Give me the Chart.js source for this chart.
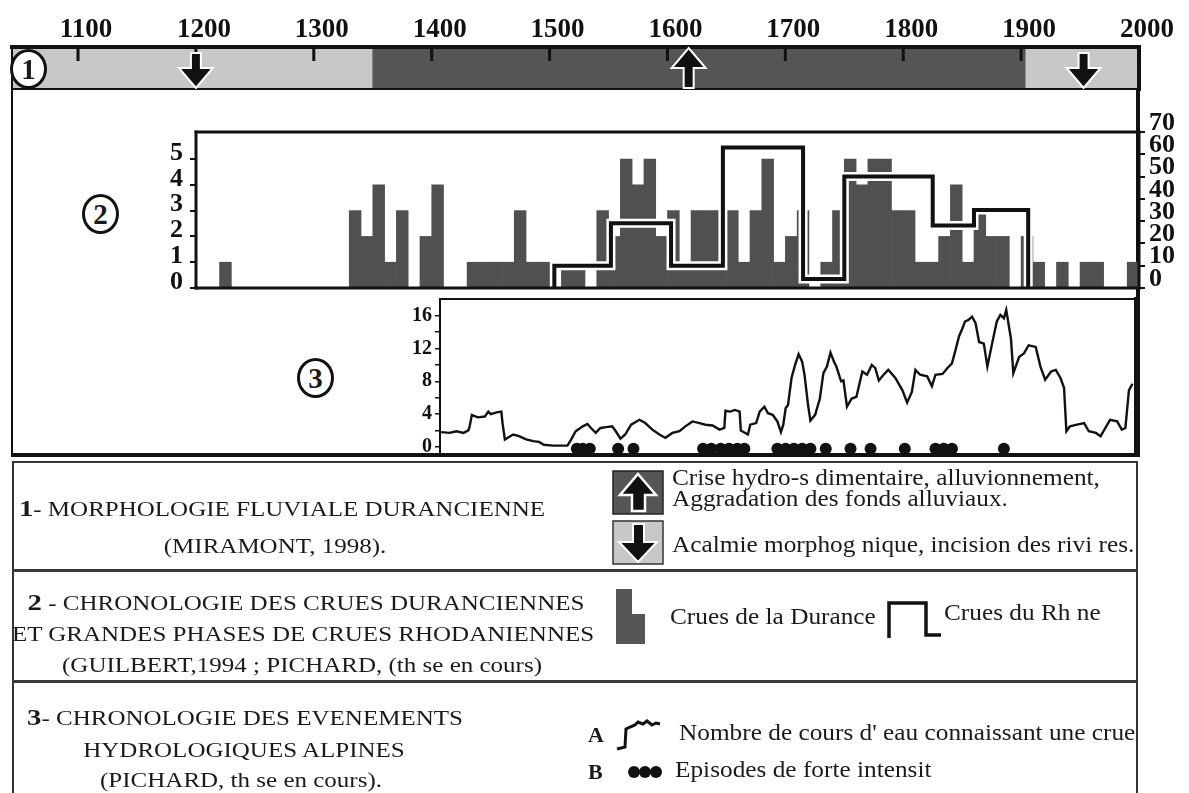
<!DOCTYPE html>
<html lang="fr">
<head>
<meta charset="UTF-8">
<title>Chronologie des crues - Durance, Rhône, Alpes</title>
<script src="https://cdn.jsdelivr.net/npm/chart.js@4.4.1/dist/chart.umd.min.js"></script>
<style>
  body {
    margin: 0;
    width: 1189px;
    height: 793px;
    overflow: hidden;
    position: relative;
    background: #fff;
    color: #1a1a1a;
    font-family: 'Liberation Serif', 'Times New Roman', serif;
  }
  canvas { position: absolute; }
  #frame {
    position: absolute; left: 11px; top: 47px; width: 1123px; height: 406px;
    border-left: 2px solid #111; border-right: 4px solid #111; border-bottom: 4px solid #111;
  }
  .circle {
    position: absolute; box-sizing: border-box; width: 37px; height: 40px;
    border: 3px solid #111; border-radius: 50%; background: #fff;
    font-weight: bold; font-size: 29px; line-height: 34px; text-align: center;
  }
  #legend {
    position: absolute; left: 12px; top: 461px; width: 1122px; height: 345px;
    border: 2px solid #333;
  }
  .divider { position: absolute; left: 12px; width: 1126px; height: 3px; background: #3a3a3a; }
  .txt { position: absolute; white-space: nowrap; line-height: 24px; }
  .caps { width: 600px; text-align: center; font-size: 20px; transform: scaleX(1.25); }
  .caps b { font-size: 23px; }
  .note { font-size: 23px; transform: scaleX(1.1); transform-origin: left center; }
  .key { font-size: 22px; font-weight: bold; }
  #icons { position: absolute; left: 0; top: 0; }
</style>
</head>
<body>
<div id="frame"></div>
<canvas id="bandChart" width="1189" height="92" style="left:0;top:0"></canvas>
<canvas id="floodChart" width="1049" height="190" style="left:140px;top:110px"></canvas>
<canvas id="alpsChart" width="809" height="175" style="left:380px;top:290px"></canvas>
<div class="circle" style="left:10px;top:49px">1</div>
<div class="circle" style="left:82px;top:194px">2</div>
<div class="circle" style="left:297px;top:358px">3</div>

<div id="legend"></div>
<div class="divider" style="top:569px"></div>
<div class="divider" style="top:680px"></div>

<svg id="icons" width="1189" height="793">
  <!-- phase icons -->
  <rect x="613" y="471" width="50" height="43" fill="#555" stroke="#222" stroke-width="1.5"/>
  <polygon points="638,474 656,495 645,495 645,511 632,511 632,495 620,495" fill="#111" stroke="#fff" stroke-width="2.5"/>
  <rect x="613" y="521" width="50" height="43" fill="#c8c8c8" stroke="#333" stroke-width="1.5"/>
  <polygon points="633,524 644,524 644,542 657,542 638,562 619,542 633,542" fill="#111" stroke="#fff" stroke-width="2"/>
  <!-- flood icons -->
  <polygon points="616,589 632,589 632,614 645,614 645,644 616,644" fill="#555"/>
  <polyline points="889,638 889,603 926,603 926,635 941,635" fill="none" stroke="#111" stroke-width="3.5"/>
  <!-- alpine icons -->
  <polyline points="617,749 625,747 626,729 630,727 635,725 638,722 643,724 647,721 652,725 656,723 660,724" fill="none" stroke="#111" stroke-width="3"/>
  <circle cx="634" cy="772" r="6" fill="#111"/>
  <circle cx="645" cy="772" r="6" fill="#111"/>
  <circle cx="656" cy="772" r="6" fill="#111"/>
</svg>

<div class="txt caps" style="left:-18px;top:497px"><b>1</b>- MORPHOLOGIE FLUVIALE DURANCIENNE</div>
<div class="txt caps" style="left:-25px;top:534px">(MIRAMONT, 1998).</div>
<div class="txt note" style="left:672px;top:466px">Crise hydro-s dimentaire, alluvionnement,</div>
<div class="txt note" style="left:672px;top:487px">Aggradation des fonds alluviaux.</div>
<div class="txt note" style="left:672px;top:533px">Acalmie morphog nique, incision des rivi res.</div>

<div class="txt caps" style="left:6px;top:591px"><b>2</b> - CHRONOLOGIE DES CRUES DURANCIENNES</div>
<div class="txt caps" style="left:3px;top:622px">ET GRANDES PHASES DE CRUES RHODANIENNES</div>
<div class="txt caps" style="left:2px;top:653px">(GUILBERT,1994 ; PICHARD, (th se en cours)</div>
<div class="txt note" style="left:670px;top:605px">Crues de la Durance</div>
<div class="txt note" style="left:944px;top:601px">Crues du Rh ne</div>

<div class="txt caps" style="left:-55px;top:706px"><b>3</b>- CHRONOLOGIE DES EVENEMENTS</div>
<div class="txt caps" style="left:-56px;top:738px">HYDROLOGIQUES ALPINES</div>
<div class="txt caps" style="left:-59px;top:768px">(PICHARD, th se en cours).</div>
<div class="txt key" style="left:588px;top:723px">A</div>
<div class="txt note" style="left:679px;top:721px">Nombre de cours d' eau connaissant une crue</div>
<div class="txt key" style="left:588px;top:760px">B</div>
<div class="txt note" style="left:675px;top:758px">Episodes de forte intensit</div>

<script>
const SERIF = "'Liberation Serif', 'Times New Roman', serif";
const INK = '#111';
const DARK = '#555555';
const LIGHT = '#c8c8c8';
const BAR_GREY = '#505050';

// TOP AXIS
const YEAR_TICKS = [1100, 1200, 1300, 1400, 1500, 1600, 1700, 1800, 1900, 2000];

// 1 - MORPHOLOGIE FLUVIALE (phases)
const PHASE_START = [1044, 1350, 1904];
const PHASE_END = [1350, 1904, 2000];
const PHASE_TYPE = ['acalmie', 'crise', 'acalmie'];
const ARROW_YEARS = [1200, 1618, 1953];
const ARROW_DIR = ['down', 'up', 'down'];

// 2 - CRUES DE LA DURANCE (par décennie) ET DU RHONE
const DECADES = [
  1200, 1210, 1220, 1230, 1240, 1250, 1260, 1270, 1280, 1290,
  1300, 1310, 1320, 1330, 1340, 1350, 1360, 1370, 1380, 1390,
  1400, 1410, 1420, 1430, 1440, 1450, 1460, 1470, 1480, 1490,
  1500, 1510, 1520, 1530, 1540, 1550, 1560, 1570, 1580, 1590,
  1600, 1610, 1620, 1630, 1640, 1650, 1660, 1670, 1680, 1690,
  1700, 1710, 1720, 1730, 1740, 1750, 1760, 1770, 1780, 1790,
  1800, 1810, 1820, 1830, 1840, 1850, 1860, 1870, 1880, 1890,
  1900, 1910, 1920, 1930, 1940, 1950, 1960, 1970, 1980, 1990
];
const DURANCE_FLOODS = [
  0, 0, 1, 0, 0, 0, 0, 0, 0, 0,
  0, 0, 0, 3, 2, 4, 1, 3, 0, 2,
  4, 0, 0, 1, 1, 1, 1, 3, 1, 1,
  0, 1, 1, 0, 3, 2, 5, 4, 5, 2,
  3, 1, 3, 3, 3, 3, 1, 3, 5, 1,
  2, 3, 0, 1, 3, 5, 4, 5, 5, 3,
  3, 1, 1, 2, 4, 1, 3, 2, 2, 0,
  2, 1, 0, 1, 0, 1, 1, 0, 0, 1
];
const DURANCE_TICKS = [0, 1, 2, 3, 4, 5];
const RHONE_YEARS = [1504, 1504, 1552, 1603, 1647, 1715, 1750, 1825, 1860, 1906, 1906];
const RHONE_LEVELS = [0, 10, 29, 10, 63, 4, 50, 28, 35, 35, 0];
const RHONE_TICKS = [0, 10, 20, 30, 40, 50, 60, 70];

// 3 - EVENEMENTS HYDROLOGIQUES ALPINS
const ALP_YEARS = [
  1408, 1415, 1421, 1427, 1431, 1432, 1434, 1439, 1445, 1448, 1450, 1455, 1459, 1460, 1462,
  1469, 1474, 1480, 1486, 1491, 1495, 1503, 1515, 1518, 1522, 1528, 1532, 1535, 1539, 1543,
  1548, 1553, 1556, 1560, 1564, 1569, 1576, 1581, 1587, 1593, 1598, 1604, 1610, 1615, 1621,
  1627, 1632, 1638, 1644, 1648, 1649, 1653, 1657, 1661, 1662, 1668, 1670, 1675, 1678, 1682,
  1685, 1689, 1693, 1696, 1698, 1700, 1702, 1705, 1708, 1711, 1714, 1716, 1719, 1721, 1725,
  1729, 1732, 1735, 1738, 1741, 1743, 1747, 1749, 1752, 1756, 1760, 1765, 1769, 1773, 1776,
  1779, 1783, 1787, 1793, 1799, 1803, 1807, 1810, 1814, 1820, 1824, 1827, 1833, 1837, 1841,
  1844, 1847, 1850, 1852, 1855, 1858, 1861, 1864, 1868, 1871, 1875, 1879, 1882, 1885, 1887,
  1891, 1893, 1898, 1902, 1906, 1912, 1916, 1920, 1925, 1929, 1933, 1936, 1938, 1941, 1947,
  1953, 1957, 1963, 1967, 1971, 1975, 1981, 1985, 1988, 1991, 1994
];
const ALP_RIVERS = [
  1.8, 1.7, 1.9, 1.7, 2.0, 2.4, 3.9, 3.6, 3.7, 4.3, 4.0, 4.2, 4.3, 2.9, 0.9,
  1.5, 1.3, 0.9, 0.7, 0.6, 0.25, 0.15, 0.15, 0.85, 1.9, 2.5, 2.8, 2.3, 1.7, 2.3,
  2.4, 2.5, 1.9, 1.0, 1.5, 2.7, 3.3, 2.9, 2.1, 1.5, 1.1, 1.7, 1.9, 2.5, 3.1,
  2.9, 2.7, 2.6, 2.1, 2.3, 4.4, 4.3, 4.5, 4.3, 2.0, 1.5, 2.7, 2.9, 4.3, 4.9,
  4.1, 3.9, 3.1, 1.8, 2.7, 4.7, 5.1, 8.4, 10.0, 11.3, 10.4, 8.8, 5.1, 3.2, 3.9,
  5.9, 9.0, 9.8, 11.5, 10.4, 9.8, 8.0, 8.1, 4.9, 5.9, 6.1, 9.2, 8.8, 10.0, 9.6,
  8.1, 8.8, 9.4, 8.4, 6.9, 5.4, 6.7, 9.4, 8.8, 8.6, 7.4, 8.8, 8.9, 9.6, 10.2,
  11.8, 13.5, 14.5, 15.3, 15.5, 15.9, 15.1, 12.8, 12.6, 9.8, 12.6, 15.3, 16.1, 15.7, 16.7,
  13.2, 9.0, 11.0, 11.4, 12.4, 12.2, 9.8, 8.2, 9.2, 9.4, 8.4, 7.2, 1.9, 2.5, 2.7,
  2.9, 1.9, 1.7, 1.3, 2.3, 3.3, 3.1, 2.1, 2.3, 6.9, 7.7
];
const ALP_TICKS = [0, 2, 4, 6, 8, 10, 12, 14, 16];
const EPISODE_YEARS = [
  1523, 1528, 1534, 1558, 1571, 1630, 1637, 1645, 1652, 1659, 1665,
  1693, 1700, 1707, 1714, 1721, 1734, 1755, 1772, 1801, 1827, 1834, 1841, 1885
];


// FRAME AROUND A PANEL (width of each side comes from plugin options)
function drawSide(ctx, x1, y1, x2, y2, w) {
  if (!w) return;
  ctx.lineWidth = w;
  ctx.beginPath();
  ctx.moveTo(x1, y1);
  ctx.lineTo(x2, y2);
  ctx.stroke();
}

const panelFrame = {
  id: 'panelFrame',
  afterDatasetsDraw(chart, args, opts) {
    const a = chart.chartArea;
    const ctx = chart.ctx;
    ctx.save();
    ctx.strokeStyle = INK;
    ctx.lineCap = 'square';
    drawSide(ctx, a.left, a.top, a.right, a.top, opts.top);
    drawSide(ctx, a.left, a.bottom, a.right, a.bottom, opts.bottom);
    drawSide(ctx, a.left, a.top, a.left, a.bottom, opts.left);
    drawSide(ctx, a.right, a.top, a.right, a.bottom, opts.right);
    ctx.restore();
  }
};

// keep the axis box at a fixed size, no extra room for label overflow
function fixWidth(w) {
  return function (s) {
    s.width = w;
    s.paddingTop = 0;
    s.paddingBottom = 0;
  };
}

// ARROWS + INNER TICKS OF THE PHASE BAND
function drawArrow(ctx, x, top, bottom, dir) {
  const head = 17, shaft = 5, headLen = 20;
  ctx.beginPath();
  if (dir === 'down') {
    const tip = bottom - 1, base = tip - headLen, start = top + 6;
    ctx.moveTo(x - shaft, start);
    ctx.lineTo(x + shaft, start);
    ctx.lineTo(x + shaft, base);
    ctx.lineTo(x + head, base);
    ctx.lineTo(x, tip);
    ctx.lineTo(x - head, base);
    ctx.lineTo(x - shaft, base);
  } else {
    const tip = top + 1, base = tip + headLen, end = bottom - 1;
    ctx.moveTo(x - shaft, end);
    ctx.lineTo(x + shaft, end);
    ctx.lineTo(x + shaft, base);
    ctx.lineTo(x + head, base);
    ctx.lineTo(x, tip);
    ctx.lineTo(x - head, base);
    ctx.lineTo(x - shaft, base);
  }
  ctx.closePath();
  ctx.fillStyle = INK;
  ctx.fill();
  ctx.strokeStyle = '#fff';
  ctx.lineWidth = 2;
  ctx.stroke();
}

const bandDecor = {
  id: 'bandDecor',
  afterDatasetsDraw(chart) {
    const ctx = chart.ctx;
    const a = chart.chartArea;
    const x = chart.scales.x;
    ctx.save();
    ctx.strokeStyle = INK;
    ctx.lineWidth = 3;
    YEAR_TICKS.forEach(function (v) {
      const px = x.getPixelForValue(v);
      ctx.beginPath();
      ctx.moveTo(px, a.top);
      ctx.lineTo(px, a.top + 14);
      ctx.stroke();
    });
    ARROW_YEARS.forEach(function (yr, i) {
      drawArrow(ctx, x.getPixelForValue(yr), a.top, a.bottom, ARROW_DIR[i]);
    });
    ctx.restore();
  }
};


// 1 - PHASE BAND WITH YEAR AXIS
function bandChart() {
  const ctx = document.getElementById('bandChart').getContext('2d');
  new Chart(ctx, {
    type: 'bar',
    data: {
      labels: ['phase'],
      datasets: [{
        label: 'Morphologie fluviale durancienne',
        data: PHASE_START.map((s, i) => ({ y: 'phase', x: [s, PHASE_END[i]] })),
        backgroundColor: PHASE_TYPE.map(t => t === 'crise' ? DARK : LIGHT),
        borderWidth: 0,
        barPercentage: 1,
        categoryPercentage: 1
      }]
    },
    options: {
      indexAxis: 'y',
      responsive: false,
      animation: false,
      layout: { padding: { left: 12, right: 50, top: 0, bottom: 3 } },
      plugins: {
        legend: { display: false },
        tooltip: { enabled: false },
        panelFrame: { top: 4, bottom: 2, left: 2, right: 4 }
      },
      scales: {
        x: {
          type: 'linear',
          position: 'top',
          min: 1044,
          max: 2000,
          offset: false,
          grid: { display: false },
          border: { display: false },
          ticks: {
            font: { family: SERIF, size: 27, weight: 'bold' },
            color: INK,
            padding: -7,
            labelOffset: 8,
            maxRotation: 0,
            autoSkip: false,
            callback: v => String(v)
          },
          afterBuildTicks: s => { s.ticks = YEAR_TICKS.map(v => ({ value: v })); },
          afterFit: s => { s.height = 47; s.paddingLeft = 0; s.paddingRight = 0; }
        },
        y: { display: false }
      }
    },
    plugins: [panelFrame, bandDecor]
  });
}


// 2 - DURANCE BARS + RHONE STEP LINE
function floodChart() {
  const ctx = document.getElementById('floodChart').getContext('2d');
  const rhonePoints = RHONE_YEARS.map((yr, i) => ({ x: yr, y: RHONE_LEVELS[i] }));
  const axisFont = { family: SERIF, size: 26, weight: 'bold' };

  new Chart(ctx, {
    type: 'bar',
    data: {
      datasets: [
        {
          type: 'line',
          label: 'Crues du Rhône',
          data: rhonePoints,
          yAxisID: 'yR',
          stepped: true,
          borderColor: INK,
          borderWidth: 4,
          pointRadius: 0,
          order: 0
        },
        {
          type: 'line',
          label: 'halo',
          data: rhonePoints,
          yAxisID: 'yR',
          stepped: true,
          borderColor: '#fff',
          borderWidth: 9,
          pointRadius: 0,
          order: 1
        },
        {
          type: 'bar',
          label: 'Crues de la Durance',
          data: DECADES.map((d, i) => ({ x: d + 5, y: DURANCE_FLOODS[i] })),
          yAxisID: 'yD',
          backgroundColor: BAR_GREY,
          borderWidth: 0,
          barPercentage: 1,
          categoryPercentage: 1,
          order: 2
        }
      ]
    },
    options: {
      responsive: false,
      animation: false,
      layout: { padding: { top: 22, bottom: 12 } },
      plugins: {
        legend: { display: false },
        tooltip: { enabled: false },
        panelFrame: { top: 3, bottom: 3, left: 3, right: 3 }
      },
      scales: {
        x: { type: 'linear', min: 1200, max: 2000, offset: false, display: false },
        yD: {
          position: 'left',
          min: 0,
          max: 6.05,
          grid: { drawOnChartArea: false, tickLength: 6, color: INK, lineWidth: 2 },
          border: { display: false },
          ticks: { font: axisFont, color: INK, padding: 7, labelOffset: -6, autoSkip: false },
          afterBuildTicks: s => { s.ticks = DURANCE_TICKS.map(v => ({ value: v })); },
          afterFit: fixWidth(56)
        },
        yR: {
          position: 'right',
          min: 0,
          max: 70,
          grid: { drawOnChartArea: false, tickLength: 6, color: INK, lineWidth: 2 },
          border: { display: false },
          ticks: { font: axisFont, color: INK, padding: 4, labelOffset: -9, autoSkip: false },
          afterBuildTicks: s => { s.ticks = RHONE_TICKS.map(v => ({ value: v })); },
          afterFit: fixWidth(50)
        }
      }
    },
    plugins: [panelFrame]
  });
}


// 3 - ALPINE RIVERS IN FLOOD + STRONG EPISODES
function alpsChart() {
  const ctx = document.getElementById('alpsChart').getContext('2d');
  const DOT_LEVEL = -0.25; // dots sit on the floor of the panel

  new Chart(ctx, {
    type: 'line',
    data: {
      datasets: [
        {
          label: "Nombre de cours d'eau connaissant une crue",
          data: ALP_YEARS.map((yr, i) => ({ x: yr, y: ALP_RIVERS[i] })),
          borderColor: INK,
          borderWidth: 2.4,
          pointRadius: 0,
          tension: 0
        },
        {
          label: 'Episodes de forte intensité',
          data: EPISODE_YEARS.map(yr => ({ x: yr, y: DOT_LEVEL })),
          showLine: false,
          pointRadius: 6,
          pointBackgroundColor: INK,
          pointBorderWidth: 0,
          clip: false
        }
      ]
    },
    options: {
      responsive: false,
      animation: false,
      layout: { padding: { top: 9, bottom: 10, right: 53 } },
      plugins: {
        legend: { display: false },
        tooltip: { enabled: false },
        panelFrame: { top: 2, bottom: 4, left: 2, right: 4 }
      },
      scales: {
        x: { type: 'linear', min: 1407, max: 1997, display: false },
        y: {
          min: -1,
          max: 18.05,
          grid: { drawOnChartArea: false, tickLength: 5, color: INK, lineWidth: 1.5 },
          border: { display: false },
          ticks: {
            font: { family: SERIF, size: 20, weight: 'bold' },
            color: INK,
            padding: 3,
            autoSkip: false,
            callback: v => (v % 4 === 0 ? v : '')
          },
          afterBuildTicks: s => { s.ticks = ALP_TICKS.map(v => ({ value: v })); },
          afterFit: fixWidth(60)
        }
      }
    },
    plugins: [panelFrame]
  });
}

Chart.defaults.font.family = SERIF;
bandChart();
floodChart();
alpsChart();
</script>
</body>
</html>
